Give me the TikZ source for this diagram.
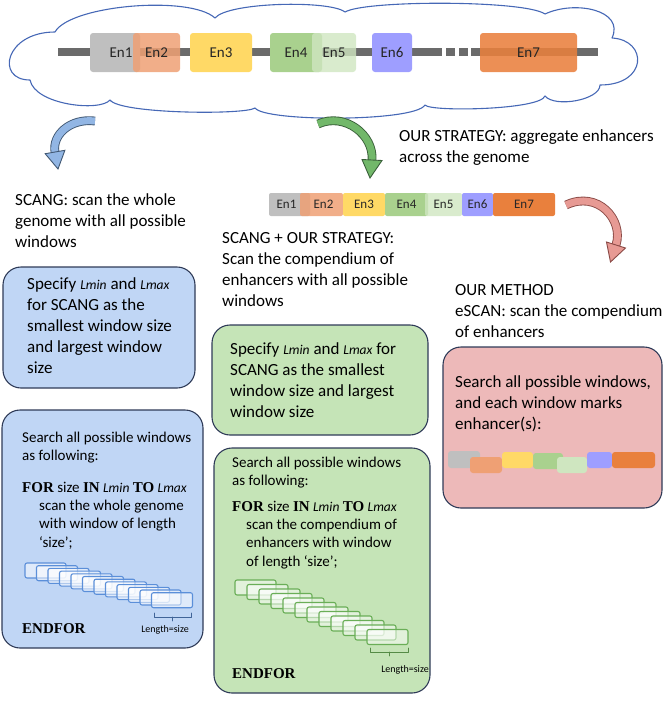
\documentclass[tikz,border=0pt]{standalone}
\usepackage{fontspec}
\setmainfont{Carlito}
\newfontfamily\kwfont{Liberation Serif}
\definecolor{cloudblue}{HTML}{4668B6}
\definecolor{genomegray}{HTML}{6B6B6B}
\definecolor{engray}{HTML}{BFBFBF}
\definecolor{enorangeA}{HTML}{EFA074}
\definecolor{enyellow}{HTML}{FFD966}
\definecolor{engreen}{HTML}{A9D18E}
\definecolor{enlight}{HTML}{CFE6C0}
\definecolor{enpurple}{HTML}{9E9EFF}
\definecolor{enorangeB}{HTML}{E9803D}
\definecolor{boxedge}{HTML}{2F3B58}
\definecolor{boxblue}{HTML}{C0D6F5}
\definecolor{boxgreen}{HTML}{C5E4B7}
\definecolor{boxpink}{HTML}{EDB9B9}
\definecolor{winblue}{HTML}{5B8FD9}
\definecolor{wingreen}{HTML}{6AAE57}
\definecolor{arblue}{HTML}{92B6E4}
\definecolor{arblueedge}{HTML}{415873}
\definecolor{argreen}{HTML}{72B86A}
\definecolor{argreenedge}{HTML}{3A5F3A}
\definecolor{arred}{HTML}{E79A94}
\definecolor{arrededge}{HTML}{8A4A46}
\newcommand{\lmv}[1]{{\fontsize{13.5}{13.5}\selectfont\itshape #1}}
\newcommand{\kw}[1]{{\kwfont\bfseries #1}}

\begin{document}
\begin{tikzpicture}[x=1pt,y=-1pt,line cap=round,line join=round,
  enbox/.style={rounded corners=3pt,inner sep=0,text=black!85,font=\fontsize{15}{15}\selectfont},
  stripbox/.style={rounded corners=2pt,inner sep=0,text=black!85,font=\fontsize{13}{13}\selectfont},
  markbox/.style={rounded corners=3pt,inner sep=0},
  bigtext/.style={anchor=north west,align=left,inner sep=0,font=\fontsize{17}{21}\selectfont},
  algtext/.style={anchor=north west,align=left,inner sep=0,font=\fontsize{15}{18.3}\selectfont},
  panel/.style={draw=boxedge,line width=1.1pt,rounded corners=18pt,inner sep=0},
  arrowbody/.style={line width=0.9pt,double distance=7pt,line cap=butt},
  arrowhead/.style={line width=0.9pt,line join=miter}]
\useasboundingbox (0,0) rectangle (666,705);

% genome in the cloud
\draw[cloudblue,line width=1.1pt] (30,80) .. controls (-5,80) and (5,32) .. (55,32)
  .. controls (70,5) and (190,-5) .. (215,18)
  .. controls (228,2) and (330,0) .. (345,12)
  .. controls (365,0) and (525,0) .. (545,14)
  .. controls (575,0) and (625,10) .. (612,38)
  .. controls (648,40) and (648,85) .. (600,85)
  .. controls (600,100) and (555,108) .. (545,96)
  .. controls (540,110) and (430,112) .. (425,105)
  .. controls (415,122) and (265,122) .. (255,108)
  .. controls (245,115) and (120,114) .. (110,100)
  .. controls (100,112) and (35,105) .. (30,80) -- cycle;
\coordinate (gL) at (58,52);
\coordinate (gM) at (433,52);
\coordinate (gN) at (471,52);
\coordinate (gR) at (598,52);
\draw[genomegray,line width=8pt,line cap=butt] (gL) -- (gM);
\draw[genomegray,line width=8pt,line cap=butt,dash pattern=on 9pt off 4pt] (gM) -- (gN);
\draw[genomegray,line width=8pt,line cap=butt] (gN) -- (gR);
\node[enbox,fill=engray,minimum width=50pt,minimum height=39pt] (gEn1) at (115,52.5) {\hspace*{12pt}En1};
\node[enbox,fill=enorangeA,fill opacity=0.85,text opacity=1,minimum width=47pt,minimum height=39pt] (gEn2) at (156.5,52.5) {En2};
\node[enbox,fill=enyellow,minimum width=62pt,minimum height=39pt] (gEn3) at (221,52.5) {En3};
\node[enbox,fill=engreen,minimum width=52pt,minimum height=39pt] (gEn4) at (296,52.5) {En4};
\node[enbox,fill=enlight,fill opacity=0.8,text opacity=1,minimum width=44pt,minimum height=39pt] (gEn5) at (334,52.5) {En5};
\node[enbox,fill=enpurple,minimum width=40pt,minimum height=39pt] (gEn6) at (392,52.5) {En6};
\node[enbox,fill=enorangeB,fill opacity=0.88,text opacity=1,minimum width=97pt,minimum height=39pt] (gEn7) at (528.5,52.5) {En7};

% bent arrows
\coordinate (bA) at (95,121);
\coordinate (bB) at (55,152);
\draw[arrowbody,draw=arblueedge,double=arblue] (bA) .. controls (70,118) and (52,135) .. (bB);
\filldraw[arrowhead,fill=arblue,draw=arblueedge] (64.9,150.3) -- (45.2,153.7) -- (58,169) -- cycle;
\coordinate (gA) at (318,124);
\coordinate (gB) at (372,160);
\draw[arrowbody,draw=argreenedge,double=argreen] (gA) .. controls (345,112) and (374,135) .. (gB);
\filldraw[arrowhead,fill=argreen,draw=argreenedge] (362,159.5) -- (382,160.5) -- (370,178) -- cycle;
\coordinate (rA) at (566,205);
\coordinate (rB) at (616,245);
\draw[arrowbody,draw=arrededge,double=arred] (rA) .. controls (598,190) and (624,220) .. (rB);
\filldraw[arrowhead,fill=arred,draw=arrededge] (625.5,248) -- (606.5,242) -- (610.5,262) -- cycle;

% headings
\node[bigtext] (strategy) at (399,129) {OUR STRATEGY: aggregate enhancers\\across the genome};
\node[bigtext] (scang) at (15,193) {SCANG: scan the whole\\genome with all possible\\windows};
\node[bigtext] (combo) at (222,232) {SCANG + OUR STRATEGY:\\Scan the compendium of\\enhancers with all possible\\windows};
\node[bigtext] (method) at (455,284) {OUR METHOD\\eSCAN: scan the compendium\\of enhancers};

% compendium strip
\node[stripbox,fill=engray,minimum width=41pt,minimum height=23pt] (sEn1) at (289.5,204.5) {En1\hspace*{6pt}};
\node[stripbox,fill=enorangeA,fill opacity=0.85,text opacity=1,minimum width=43pt,minimum height=23pt] (sEn2) at (321.5,204.5) {\hspace*{4pt}En2};
\node[stripbox,fill=enyellow,minimum width=42pt,minimum height=23pt] (sEn3) at (364,204.5) {En3};
\node[stripbox,fill=engreen,minimum width=43pt,minimum height=23pt] (sEn4) at (406.5,204.5) {En4};
\node[stripbox,fill=enlight,fill opacity=0.8,text opacity=1,minimum width=37pt,minimum height=23pt] (sEn5) at (443.5,204.5) {En5};
\node[stripbox,fill=enpurple,minimum width=31pt,minimum height=23pt] (sEn6) at (477.5,204.5) {En6};
\node[stripbox,fill=enorangeB,minimum width=62pt,minimum height=23pt] (sEn7) at (524,204.5) {En7};

% SCANG panels
\node[panel,fill=boxblue,minimum width=192pt,minimum height=121pt] (specA) at (99,327.5) {};
\node[bigtext] (specAtxt) at (27,277) {Specify \lmv{Lmin} and \lmv{Lmax}\\for SCANG as the\\smallest window size\\and largest window\\size};
\node[panel,fill=boxblue,minimum width=201pt,minimum height=238pt] (loopA) at (102.5,529) {};
\node[algtext] (loopAtxt) at (22,432) {Search all possible windows\\as following:};
\node[algtext] (loopAfor) at (22,482) {\kw{FOR} size \kw{IN} \lmv{Lmin} \kw{TO} \lmv{Lmax}};
\node[algtext] (loopAbody) at (39,500) {scan the whole genome\\with window of length\\`size';};
\foreach \i in {0,...,11}
  \draw[winblue,line width=1.1pt,fill=white,fill opacity=0.5,rounded corners=2pt]
    (25+\i*11.5,563+\i*2.7) rectangle ++(41,15);
\coordinate (lenA) at (154,613);
\draw[winblue!70!black,line width=0.8pt] (lenA) -- ++(0,4) -- ++(37,0) -- ++(0,-4) (172.5,617) -- ++(0,4);
\node[anchor=base west,inner sep=0,font=\fontsize{15}{15}\selectfont] (endA) at (22,633) {\kw{ENDFOR}};
\node[inner sep=0,font=\fontsize{10}{10}\selectfont] (lenAtxt) at (165,630) {Length=size};

% SCANG + strategy panels
\node[panel,fill=boxgreen,minimum width=216pt,minimum height=110pt] (specB) at (320,380) {};
\node[bigtext] (specBtxt) at (230,342) {Specify \lmv{Lmin} and \lmv{Lmax} for\\SCANG as the smallest\\window size and largest\\window size};
\node[panel,fill=boxgreen,minimum width=216pt,minimum height=245pt] (loopB) at (322,570.5) {};
\node[algtext] (loopBtxt) at (232,457) {Search all possible windows\\as following:};
\node[algtext] (loopBfor) at (232,501) {\kw{FOR} size \kw{IN} \lmv{Lmin} \kw{TO} \lmv{Lmax}};
\node[algtext] (loopBbody) at (246,519) {scan the compendium of\\enhancers with window\\of length `size';};
\foreach \i in {0,...,11}
  \draw[wingreen,line width=1.1pt,fill=white,fill opacity=0.5,rounded corners=2pt]
    (235+\i*12,580+\i*4.5) rectangle ++(41,15);
\coordinate (lenB) at (370,648);
\draw[wingreen!80!black,line width=0.8pt] (lenB) -- ++(0,4) -- ++(38,0) -- ++(0,-4) (389,652) -- ++(0,4);
\node[anchor=base west,inner sep=0,font=\fontsize{15}{15}\selectfont] (endB) at (232,678) {\kw{ENDFOR}};
\node[inner sep=0,font=\fontsize{10}{10}\selectfont] (lenBtxt) at (405,670) {Length=size};

% eSCAN panel
\node[panel,fill=boxpink,minimum width=219pt,minimum height=161pt] (escan) at (552.5,427.5) {};
\node[bigtext] (escantxt) at (455,375) {Search all possible windows,\\and each window marks\\enhancer(s):};
\node[markbox,fill=engray,minimum width=32pt,minimum height=17pt] (m1) at (464,459.5) {};
\node[markbox,fill=enorangeA,minimum width=32pt,minimum height=16pt] (m2) at (486,465) {};
\node[markbox,fill=enyellow,minimum width=31pt,minimum height=16pt] (m3) at (517.5,460) {};
\node[markbox,fill=engreen,minimum width=30pt,minimum height=16pt] (m4) at (548,461) {};
\node[markbox,fill=enlight,minimum width=30pt,minimum height=16pt] (m5) at (572,465) {};
\node[markbox,fill=enpurple,minimum width=25pt,minimum height=16pt] (m6) at (599.5,460) {};
\node[markbox,fill=enorangeB,minimum width=43pt,minimum height=16pt] (m7) at (633.5,460) {};
\end{tikzpicture}
\end{document}
